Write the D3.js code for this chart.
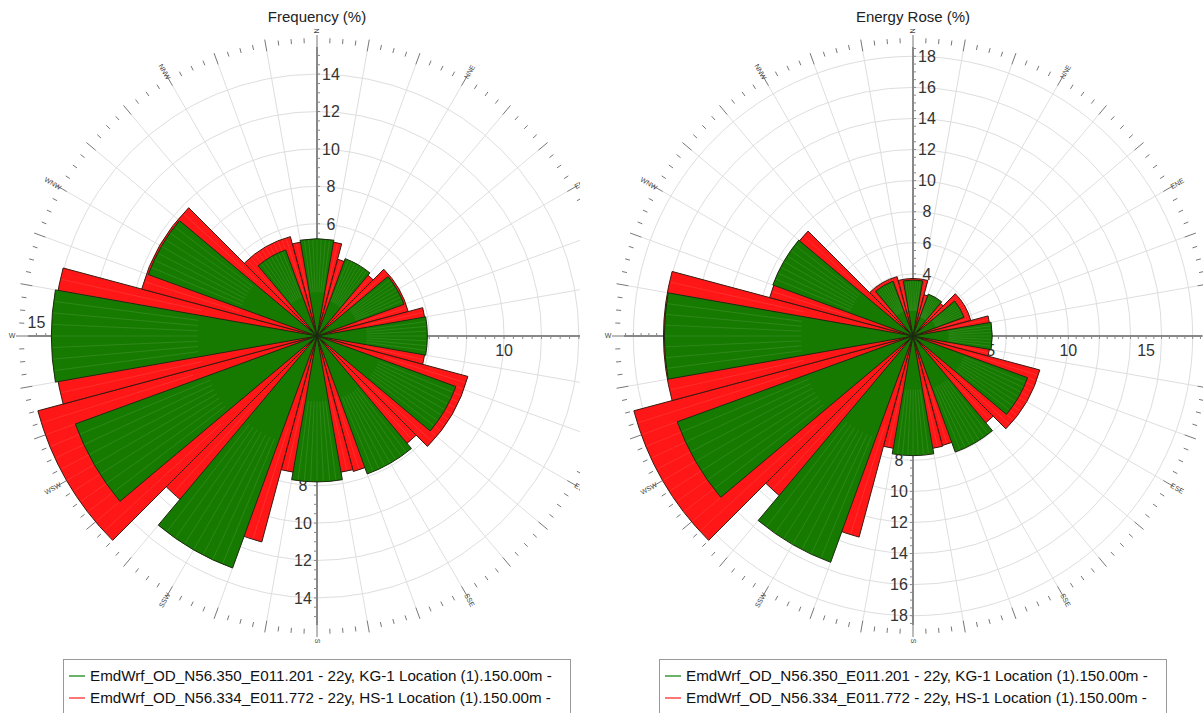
<!DOCTYPE html>
<html>
<head>
<meta charset="utf-8">
<script src="https://cdn.jsdelivr.net/npm/d3@7"></script>
<style>
  body { margin: 0; background: #fff; }
  svg { font-family: "Liberation Sans", Arial, sans-serif; }
</style>
</head>
<body>
<div id="chart"></div>
<script>
// 12 sectors, 30 degrees each
const sectors = ["N", "NNE", "ENE", "E", "ESE", "SSE", "S", "SSW", "WSW", "W", "WNW", "NNW"];

// frequency (%) per sector
const freqKG = [5.2, 4.4, 4.95, 5.9, 7.9, 7.85, 7.8, 13.2, 13.75, 14.2, 9.6, 4.9];
const freqHS = [5.1, 4.25, 5.05, 5.85, 8.35, 7.5, 7.4, 11.4, 15.45, 14.05, 9.7, 5.5];

// energy rose (%) per sector
const energyKG = [3.6, 2.87, 3.5, 5.1, 7.85, 7.95, 7.7, 15.5, 16.15, 16.0, 9.6, 3.75];
const energyHS = [3.7, 2.75, 3.85, 5.0, 8.45, 7.3, 7.35, 13.4, 18.6, 16.05, 9.55, 3.95];

const seriesNames = [
  "EmdWrf_OD_N56.350_E011.201 - 22y, KG-1 Location (1).150.00m -",
  "EmdWrf_OD_N56.334_E011.772 - 22y, HS-1 Location (1).150.00m -"
];

const freqTicksNS = [2, 4, 6, 8, 10, 12, 14];
const freqTicksEW = [5, 10, 15];
const energyTicksNS = [2, 4, 6, 8, 10, 12, 14, 16, 18];
const energyTicksEW = [5, 10, 15];

const width = 1203, height = 713;
const R = 289;
const green = "#167a00", red = "#ff1616";

const svg = d3.select("#chart").append("svg")
  .attr("width", width)
  .attr("height", height);

const panels = [
  { title: "Frequency (%)", cx: 317, cy: 336, clip: [0, 0, 580, 650], kg: freqKG, hs: freqHS,
    ticksNS: freqTicksNS, ticksEW: freqTicksEW, legendX: 63 },
  { title: "Energy Rose (%)", cx: 913, cy: 336, clip: [598, 0, 605, 650], kg: energyKG, hs: energyHS,
    ticksNS: energyTicksNS, ticksEW: energyTicksEW, legendX: 659 }
];

const rad = d => d * Math.PI / 180;

panels.forEach((p, pi) => {
  const r = d3.scaleLinear()
    .domain([0, d3.max(p.kg.concat(p.hs))])
    .range([0, R]);
  const ang = d3.scaleLinear().domain([0, sectors.length]).range([0, 360]);

  svg.append("clipPath").attr("id", "clip" + pi)
    .append("rect")
    .attr("x", p.clip[0]).attr("y", p.clip[1])
    .attr("width", p.clip[2]).attr("height", p.clip[3]);

  svg.append("text")
    .attr("x", p.cx).attr("y", 22)
    .attr("text-anchor", "middle")
    .attr("font-size", 15)
    .attr("fill", "#222")
    .text(p.title);

  const g = svg.append("g")
    .attr("clip-path", `url(#clip${pi})`)
    .append("g")
    .attr("transform", `translate(${p.cx},${p.cy})`);

  // rings every 2 %
  g.selectAll(".ring")
    .data(d3.range(2, r.domain()[1], 2))
    .join("circle")
    .attr("r", d => r(d))
    .attr("fill", "none")
    .attr("stroke", "#dedede")
    .attr("stroke-width", 1);

  // spokes every 10 degrees
  g.selectAll(".spoke")
    .data(d3.range(0, 360, 10))
    .join("line")
    .attr("x2", d => R * Math.sin(rad(d)))
    .attr("y2", d => -R * Math.cos(rad(d)))
    .attr("stroke", "#dedede")
    .attr("stroke-width", 1);

  // outer tick ring
  g.selectAll(".otick")
    .data(d3.range(0, 360, 2.5))
    .join("line")
    .attr("x1", d => (R + (d % 10 === 0 ? 0 : 4)) * Math.sin(rad(d)))
    .attr("y1", d => -(R + (d % 10 === 0 ? 0 : 4)) * Math.cos(rad(d)))
    .attr("x2", d => (R + (d % 10 === 0 ? 12 : 9)) * Math.sin(rad(d)))
    .attr("y2", d => -(R + (d % 10 === 0 ? 12 : 9)) * Math.cos(rad(d)))
    .attr("stroke", "#777")
    .attr("stroke-width", 1);

  // direction labels (only those that fall inside the panel)
  const dirs = sectors.map((s, i) => {
    const a = ang(i);
    return { s, a, x: (R + 16) * Math.sin(rad(a)), y: -(R + 16) * Math.cos(rad(a)) };
  }).filter(d => p.cx + d.x < p.clip[0] + p.clip[2] + 3);

  g.selectAll(".dir")
    .data(dirs)
    .join("text")
    .attr("transform", d => {
      let rot = d.a - 90;
      if (rot > 90) rot -= 180;
      return `translate(${d.x},${d.y}) rotate(${rot})`;
    })
    .attr("text-anchor", "middle")
    .attr("dy", "0.35em")
    .attr("font-size", 7)
    .attr("fill", "#444")
    .text(d => d.s);

  // axes N-S and E-W with labels
  [0, 90, 180, 270].forEach(a => {
    const dx = Math.sin(rad(a)), dy = -Math.cos(rad(a));
    const px = -dy, py = dx;
    const ticks = (a % 180 === 0) ? p.ticksNS : p.ticksEW;
    g.append("line")
      .attr("x2", R * dx).attr("y2", R * dy)
      .attr("stroke", "#666").attr("stroke-width", 1.5);
    g.selectAll(null)
      .data(d3.range(0.5, r.domain()[1], 0.5))
      .join("line")
      .attr("x1", d => r(d) * dx).attr("y1", d => r(d) * dy)
      .attr("x2", d => r(d) * dx + px * 3).attr("y2", d => r(d) * dy + py * 3)
      .attr("stroke", "#888").attr("stroke-width", 1);
    g.selectAll(null)
      .data(ticks)
      .join("text")
      .attr("x", d => r(d) * dx + px * 14)
      .attr("y", d => r(d) * dy + py * 14)
      .attr("text-anchor", "middle")
      .attr("dy", "0.36em")
      .attr("font-size", 16)
      .attr("fill", "#333")
      .text(d => d);
  });

  // bars: HS-1 (red, wide) first, KG-1 (green, narrow) on top
  const arcRed = d3.arc()
    .innerRadius(0)
    .outerRadius(d => r(d))
    .startAngle((d, i) => rad(ang(i) - 15))
    .endAngle((d, i) => rad(ang(i) + 15));
  const arcGreen = d3.arc()
    .innerRadius(0)
    .outerRadius(d => r(d))
    .startAngle((d, i) => rad(ang(i) - 10))
    .endAngle((d, i) => rad(ang(i) + 10));

  const drawBars = (vals, arc, half, fill, stroke) => {
    const bg = g.append("g");
    bg.selectAll("path")
      .data(vals)
      .join("path")
      .attr("d", (d, i) => arc(d, i))
      .attr("fill", fill)
      .attr("stroke", stroke)
      .attr("stroke-width", 1);
    // faint seams inside each bar
    vals.forEach((v, i) => {
      const c = ang(i);
      bg.selectAll(null)
        .data(d3.range(c - half + 2.5, c + half, 2.5))
        .join("line")
        .attr("x1", a => r(v) * 0.45 * Math.sin(rad(a)))
        .attr("y1", a => -r(v) * 0.45 * Math.cos(rad(a)))
        .attr("x2", a => (r(v) - 1) * Math.sin(rad(a)))
        .attr("y2", a => -(r(v) - 1) * Math.cos(rad(a)))
        .attr("stroke", "#fff")
        .attr("stroke-opacity", 0.1)
        .attr("stroke-width", 1);
    });
  };
  drawBars(p.hs, arcRed, 15, red, "#3a1a10");
  drawBars(p.kg, arcGreen, 10, green, "#1c2a10");

  // legend
  const lg = svg.append("g").attr("transform", `translate(${p.legendX},659)`);
  lg.append("rect")
    .attr("x", 0.5).attr("y", 0.5)
    .attr("width", 507).attr("height", 60)
    .attr("fill", "#fff")
    .attr("stroke", "#999");
  [green, red].forEach((c, i) => {
    lg.append("line")
      .attr("x1", 6).attr("x2", 22)
      .attr("y1", 17 + i * 22).attr("y2", 17 + i * 22)
      .attr("stroke", i === 0 ? "#3a9a3a" : "#ff4a4a")
      .attr("stroke-width", 1.5);
    lg.append("text")
      .attr("x", 27).attr("y", 22 + i * 22)
      .attr("font-size", 15.2)
      .attr("fill", "#111")
      .text(seriesNames[i]);
  });
});
</script>
</body>
</html>
